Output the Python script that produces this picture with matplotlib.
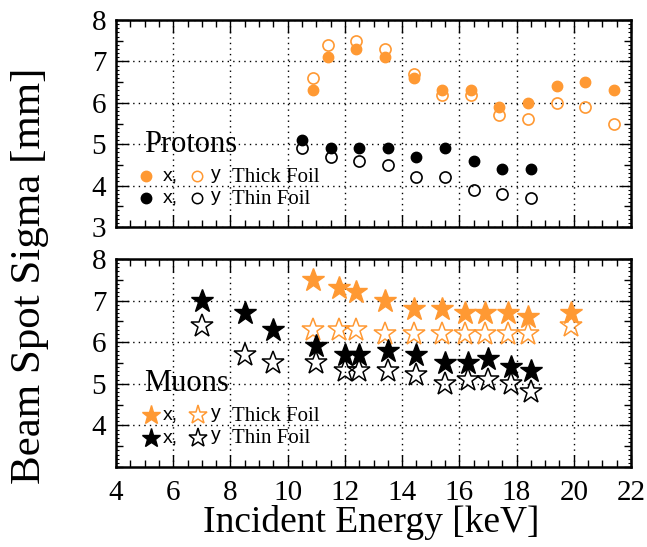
import matplotlib
matplotlib.use("Agg")
import matplotlib.pyplot as plt
from matplotlib.ticker import MultipleLocator, FixedLocator

# ---------------- data ----------------
# Protons, thick foil
p_thick_E = [10.9, 11.4, 12.4, 13.4, 14.4, 15.4, 16.4, 17.4, 18.4, 19.4, 20.4, 21.4]
p_thick_x = [6.3, 7.1, 7.3, 7.1, 6.6, 6.3, 6.3, 5.9, 6.0, 6.4, 6.5, 6.3]
p_thick_y = [6.6, 7.4, 7.5, 7.3, 6.7, 6.2, 6.2, 5.7, 5.6, 6.0, 5.9, 5.5]
# Protons, thin foil
p_thin_E = [10.5, 11.5, 12.5, 13.5, 14.5, 15.5, 16.5, 17.5, 18.5]
p_thin_x = [5.1, 4.9, 4.9, 4.9, 4.7, 4.9, 4.6, 4.4, 4.4]
p_thin_y = [4.9, 4.7, 4.6, 4.5, 4.2, 4.2, 3.9, 3.8, 3.7]
# Muons, thick foil
m_thick_E = [10.9, 11.8, 12.4, 13.4, 14.4, 15.4, 16.2, 16.9, 17.7, 18.4, 19.9]
m_thick_x = [7.5, 7.3, 7.2, 7.0, 6.8, 6.8, 6.7, 6.7, 6.7, 6.6, 6.7]
m_thick_y = [6.3, 6.3, 6.3, 6.2, 6.2, 6.2, 6.2, 6.2, 6.2, 6.2, 6.4]
# Muons, thin foil
m_thin_E = [7.0, 8.5, 9.5, 11.0, 12.0, 12.5, 13.5, 14.5, 15.5, 16.3, 17.0, 17.8, 18.5]
m_thin_x = [7.0, 6.7, 6.3, 5.9, 5.7, 5.7, 5.8, 5.7, 5.5, 5.5, 5.6, 5.4, 5.3]
m_thin_y = [6.4, 5.7, 5.5, 5.5, 5.3, 5.3, 5.3, 5.2, 5.0, 5.1, 5.1, 5.0, 4.8]

x_ticks = [4, 6, 8, 10, 12, 14, 16, 18, 20, 22]
top_yticks = [3, 4, 5, 6, 7, 8]
bot_yticks = [4, 5, 6, 7, 8]

ORANGE = "#FF9933"
SERIF = ["Liberation Serif", "DejaVu Serif"]
SANS = ["Liberation Sans", "DejaVu Sans"]

plt.rcParams["font.family"] = SERIF

W, H = 647, 547
fig = plt.figure(figsize=(W / 100, H / 100), dpi=100)

def fax(l, t, r, b):
    return fig.add_axes([l / W, 1 - b / H, (r - l) / W, (b - t) / H])

ax1 = fax(116, 20, 631, 227)
ax2 = fax(116, 259, 631, 467)

def style(ax, yticks, show_x):
    ax.set_xlim(4, 22)
    ax.set_ylim(3, 8)
    ax.xaxis.set_major_locator(FixedLocator(x_ticks))
    ax.xaxis.set_minor_locator(MultipleLocator(0.5))
    ax.yaxis.set_minor_locator(MultipleLocator(0.5))
    ax.set_yticks(yticks)
    ax.set_yticklabels([str(v) for v in yticks])
    ax.tick_params(which="major", direction="in", length=9, width=1.0,
                   top=True, right=True, labelsize=21, pad=7)
    ax.tick_params(which="minor", direction="in", length=5, width=1.0,
                   top=True, right=True)
    ax.tick_params(axis="x", which="major", pad=9)
    if not show_x:
        ax.tick_params(axis="x", labelbottom=False)
    ax.grid(True, which="major", linestyle=(0, (1, 3)), color="black", linewidth=1.0)
    for s in ax.spines.values():
        s.set_linewidth(1.8)
    # fine ticks every 0.1 on the y axis
    for side in ("left", "right"):
        sec = ax.secondary_yaxis(side)
        sec.yaxis.set_major_locator(MultipleLocator(0.1))
        sec.tick_params(direction="in", length=2.5, width=0.8, labelleft=False,
                        labelright=False)
        sec.spines[side].set_visible(False)

style(ax1, top_yticks, False)
style(ax2, bot_yticks, True)

# protons
ax1.plot(p_thick_E, p_thick_x, "o", ms=7.5, color=ORANGE, mec=ORANGE, ls="none", zorder=3)
ax1.plot(p_thick_E, p_thick_y, "o", ms=8, mfc="none", mec=ORANGE, mew=1.2, ls="none", zorder=3)
ax1.plot(p_thin_E, p_thin_x, "o", ms=7.5, color="black", ls="none", zorder=3)
ax1.plot(p_thin_E, p_thin_y, "o", ms=8, mfc="none", mec="black", mew=1.2, ls="none", zorder=3)

# muons
ax2.plot(m_thick_E, m_thick_x, "*", ms=17, color=ORANGE, mec=ORANGE, ls="none", zorder=3)
ax2.plot(m_thick_E, m_thick_y, "*", ms=17, mfc="none", mec=ORANGE, mew=1.1, ls="none", zorder=3)
ax2.plot(m_thin_E, m_thin_x, "*", ms=17, color="black", ls="none", zorder=3)
ax2.plot(m_thin_E, m_thin_y, "*", ms=17, mfc="none", mec="black", mew=1.1, ls="none", zorder=3)

# manual legends
def legend(ax, title, title_y, rows, marker, ms, mx0, mx1):
    t = ax.transAxes
    ax.text(0.054, title_y, title, transform=t, fontsize=22, va="center", ha="left")
    for (yy, col, label) in rows:
        ax.plot([mx0], [yy], marker, ms=ms, color=col, mec=col, transform=t, clip_on=False)
        ax.text(0.091, yy, "x,", transform=t, fontsize=14, family=SANS, va="center", ha="left")
        ax.plot([mx1], [yy], marker, ms=ms, mfc="white", mec=col, mew=1.1, transform=t, clip_on=False)
        ax.text(0.184, yy + 0.01, "y", transform=t, fontsize=14, family=SANS, va="center", ha="left")
        ax.text(0.225, yy - 0.005, label, transform=t, fontsize=15, va="center", ha="left")

legend(ax1, "Protons", 0.40,
       [(0.245, ORANGE, "Thick Foil"), (0.138, "black", "Thin Foil")],
       "o", 7.5, 0.058, 0.157)
legend(ax2, "Muons", 0.40,
       [(0.248, ORANGE, "Thick Foil"), (0.140, "black", "Thin Foil")],
       "*", 14, 0.068, 0.159)

fig.text(30 / W, 1 - 276 / H, "Beam Spot Sigma [mm]", rotation=90, fontsize=31,
         va="center", ha="center")
fig.text(371 / W, 1 - 522 / H, "Incident Energy [keV]", fontsize=27,
         va="center", ha="center")

fig.savefig("out.png", dpi=100)
